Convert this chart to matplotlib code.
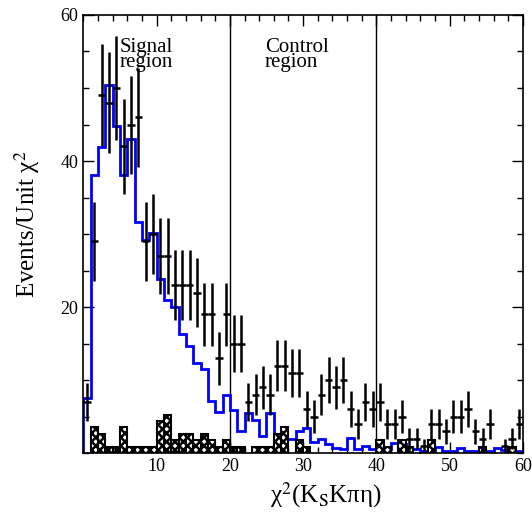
import numpy as np
import matplotlib
matplotlib.use("Agg")
import matplotlib.pyplot as plt
from matplotlib.ticker import MultipleLocator

plt.rcParams['font.family'] = ['Liberation Serif', 'DejaVu Serif']
plt.rcParams['mathtext.fontset'] = 'stix'
plt.rcParams['hatch.linewidth'] = 1.8

# bins of unit width from 0 to 60
edges = np.arange(0, 61, 1)
centers = edges[:-1] + 0.5

# data: events per bin
data = [7, 29, 49, 48, 50, 42, 45, 46, 29, 30,
        27, 27, 23, 23, 23, 22, 19, 19, 13, 19,
        15, 15, 7, 8, 9, 8, 12, 12, 11, 11,
        6, 5, 8, 10, 9, 10, 6, 4, 7, 6,
        7, 4, 4, 5, 2, 2, 1, 4, 4, 3,
        5, 5, 6, 3, 2, 4, 0, 1, 2, 4]

# signal MC (blue)
signal_mc = [7.6, 38.1, 41.9, 50.4, 44.8, 38.1, 43.0, 31.7, 29.2, 30.1,
             23.8, 21.0, 20.0, 16.3, 14.7, 12.3, 11.5, 7.2, 5.6, 8.0,
             5.9, 3.0, 5.5, 4.5, 2.4, 5.5, 2.3, 2.0, 2.0, 3.0,
             3.5, 1.6, 2.0, 1.3, 0.7, 0.6, 2.1, 0.6, 1.0, 0.55,
             0.6, 0.6, 1.4, 1.2, 0.6, 0.6, 0.3, 0.3, 0.9, 0.3,
             0.3, 0.7, 0.3, 0.3, 0.3, 0.3, 0.7, 0.5, 0.3, 0.3]

# background (hatched)
background = [0, 3.52, 2.64, 0.88, 0.88, 3.52, 0.88, 0.88, 0.88, 0.88,
              4.4, 5.28, 1.76, 2.64, 2.64, 1.76, 2.64, 1.76, 0.88, 1.76,
              0.88, 0.88, 0, 0.88, 0.88, 0.88, 2.64, 3.52, 0, 1.76,
              0.88, 0, 0, 0, 0, 0, 0, 0, 0, 0,
              1.76, 0.88, 0, 1.76, 0.88, 0, 0, 1.76, 0, 0,
              0, 0, 0, 0, 0.88, 0, 0, 0, 0.88, 0]

data = np.array(data, dtype=float)
background = np.array(background)

fig = plt.figure(figsize=(5.32, 5.15), dpi=100)
ax = fig.add_axes([0.1566, 0.12, 0.8264, 0.851])

ax.stairs(signal_mc, edges, color='#0000ff', lw=2.0, baseline=0, zorder=2)

mask = background > 0
ax.bar(centers[mask], background[mask], width=1.0, facecolor='white',
       edgecolor='black', hatch='xxxx', lw=1.5, zorder=3)

ok = data > 0
ax.errorbar(centers[ok], data[ok], xerr=0.5, yerr=np.sqrt(data[ok]),
            fmt='none', ecolor='black', elinewidth=1.8, capsize=0, zorder=4)

ax.axvline(20, color='black', lw=1.0, zorder=1)
ax.axvline(40, color='black', lw=1.0, zorder=1)

ax.text(5.0, 56.8, "Signal\nregion", fontsize=15, va='top', ha='left',
        linespacing=0.72)
ax.text(24.8, 56.8, "Control\nregion", fontsize=15, va='top', ha='left',
        linespacing=0.72)

ax.set_xlim(0, 60)
ax.set_ylim(0, 60)
ax.xaxis.set_major_locator(MultipleLocator(10))
ax.xaxis.set_minor_locator(MultipleLocator(2))
ax.yaxis.set_major_locator(MultipleLocator(20))
ax.yaxis.set_minor_locator(MultipleLocator(5))
ax.tick_params(which='both', direction='in', top=True, right=True,
               labelsize=13, width=1.0)
ax.tick_params(which='major', length=8)
ax.tick_params(which='minor', length=4)
ax.set_xticks([10, 20, 30, 40, 50, 60])
ax.set_yticks([20, 40, 60])
for s in ax.spines.values():
    s.set_linewidth(1.2)

ax.set_xlabel("χ$^2$(K$_\\mathrm{S}$Kπη)", fontsize=18)
ax.xaxis.set_label_coords(0.552, -0.062)
ax.set_ylabel("Events/Unit χ$^2$", fontsize=18)
ax.yaxis.set_label_coords(-0.095, 0.523)

fig.savefig("out.png", dpi=100)
